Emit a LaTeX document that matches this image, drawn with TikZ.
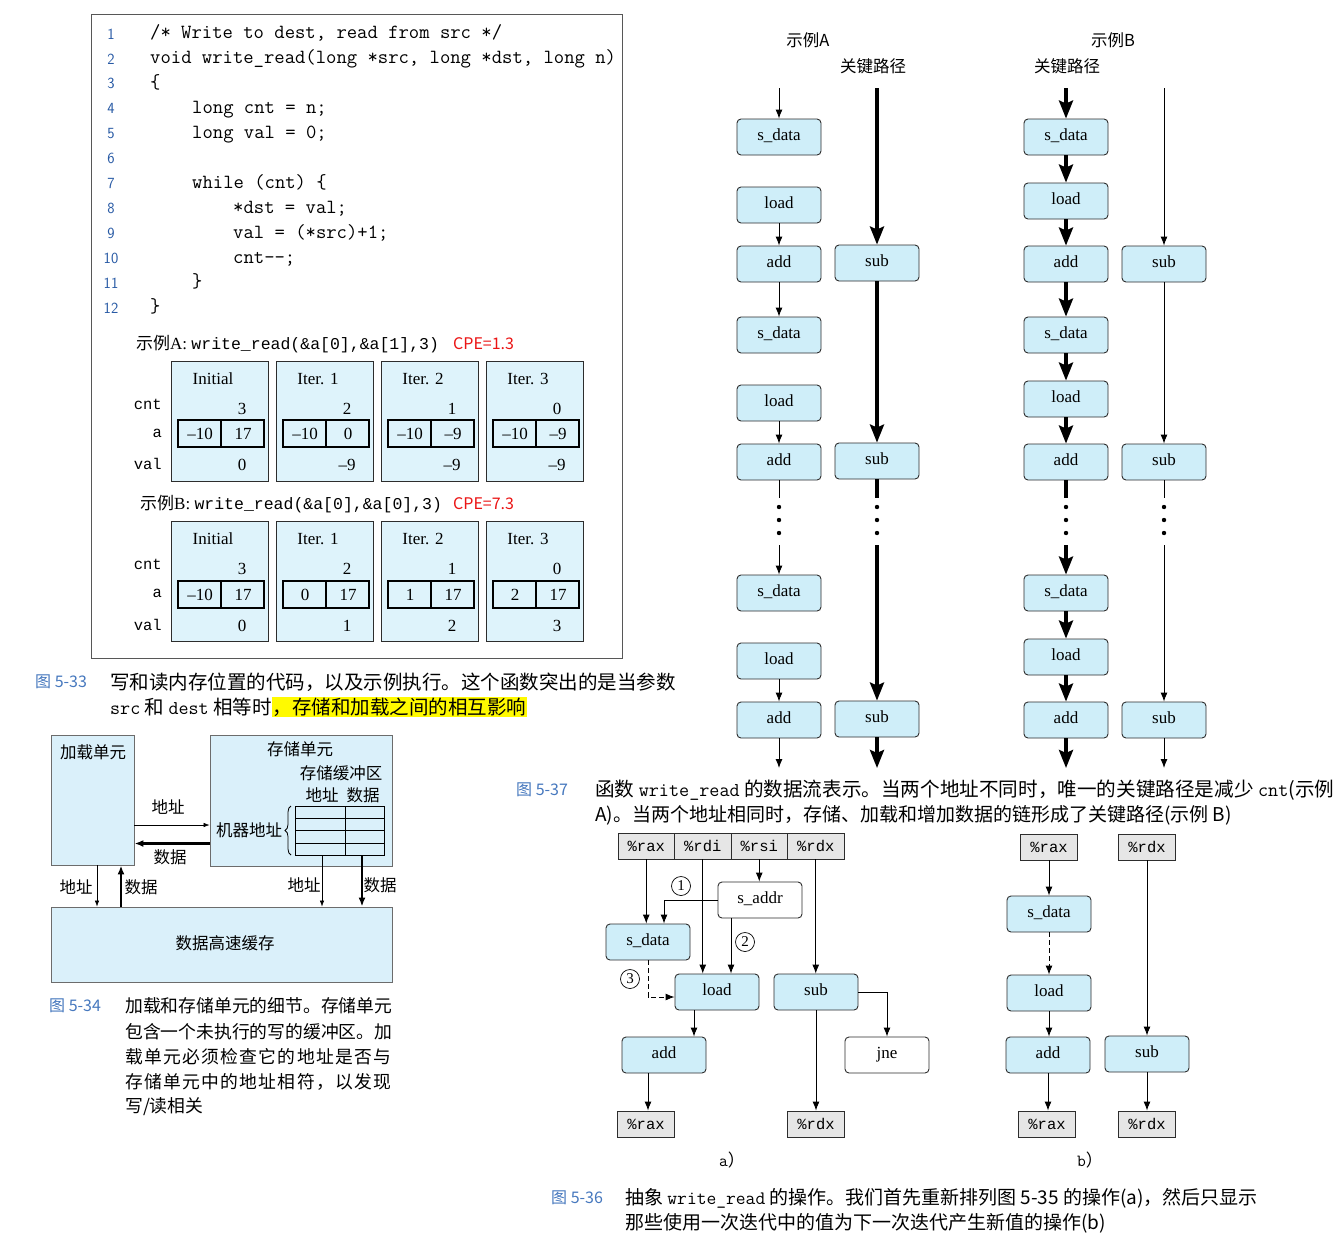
\documentclass[tikz,border=0pt]{standalone}
\usepackage{fontspec}
\setmainfont{Liberation Serif}
\newfontfamily\cjk{Noto Sans CJK SC}
\newfontfamily\cjkwide[LetterSpace=7.3]{Noto Sans CJK SC}
\newfontfamily\cour{Liberation Mono}
\usepackage{xcolor}
\usetikzlibrary{calc, arrows.meta, decorations.pathreplacing}

\definecolor{opblue}{RGB}{207,238,249}
\definecolor{cellblue}{RGB}{222,243,251}
\definecolor{unitblue}{RGB}{218,240,250}
\definecolor{reggray}{RGB}{230,230,230}
\definecolor{edgegray}{RGB}{45,45,45}
\definecolor{capblue}{RGB}{70,120,190}
\definecolor{lineblue}{RGB}{40,90,165}
\definecolor{cpered}{RGB}{235,20,20}
\definecolor{hlyellow}{RGB}{255,250,0}
\setlength{\fboxsep}{1pt}

\tikzset{
	every node/.style={inner sep=0pt},
	codeline/.style={anchor=west, font=\ttfamily\fontsize{20.1}{24}\selectfont, text height=13pt, text depth=4pt},
	lineno/.style={font=\sffamily\fontsize{15.5}{17}\selectfont, text=lineblue},
	cell/.style={draw=edgegray, line width=0.8pt, fill=cellblue},
	arrbox/.style={line width=1.6pt},
	valtxt/.style={font=\fontsize{17}{19}\selectfont},
	rowlbl/.style={anchor=east, font=\cour\fontsize{15.5}{18}\selectfont},
	exhead/.style={anchor=west, font=\fontsize{17}{20}\selectfont},
	cpe/.style={anchor=west, text=cpered, font=\cjk\fontsize{16}{20}\selectfont},
	captxt/.style={anchor=west, font=\cjk\fontsize{19}{22}\selectfont},
	capno/.style={anchor=west, text=capblue, font=\cjk\fontsize{16}{20}\selectfont},
	unitbox/.style={draw=edgegray!70, line width=0.9pt, fill=unitblue},
	lbl/.style={font=\cjk\fontsize{16.5}{20}\selectfont},
	addrbus/.style={-{Latex[length=6pt,width=4.5pt]}, line width=0.6pt},
	databus/.style={-{Latex[length=9pt,width=7pt]}, line width=2.4pt},
	op/.style={draw=edgegray, line width=0.9pt, fill=opblue, rounded corners=4pt, minimum width=84pt, minimum height=36pt, font=\fontsize{17}{18}\selectfont, text height=11pt, text depth=3.5pt},
	opw/.style={op, fill=white},
	reg/.style={draw=edgegray, line width=0.9pt, fill=reggray, minimum width=56.5pt, minimum height=26pt, font=\cour\fontsize{15.5}{18}\selectfont},
	flow/.style={-{Latex[length=9pt,width=7pt]}, line width=0.9pt},
	crit/.style={-{Stealth[length=18pt,width=14pt,inset=3pt]}, line width=3.6pt},
	critline/.style={line width=3.6pt},
	link/.style={dash pattern=on 5pt off 3pt},
	circnum/.style={circle, draw, line width=0.7pt, minimum size=19pt, font=\fontsize{15}{16}\selectfont},
}

\begin{document}
\begin{tikzpicture}[x=1pt, y=-1pt]
	\useasboundingbox (0,0) rectangle (1344,1237);
	\fill[white] (0,0) rectangle (1344,1237);

	%----- figure 5-33: code
	\draw[edgegray!80, line width=1pt] (91,14) rectangle (622,658);
	\foreach \n in {1,...,12}
		\node[lineno] (ln\n) at (111,{34+24.9*(\n-1)}) {\n};
	\node[codeline] (c1) at (150,34) {/* Write to dest, read from src */};
	\node[codeline] (c2) at (150,59) {void write\_read(long *src, long *dst, long n)};
	\node[codeline] (c3) at (150,84) {\{};
	\node[codeline] (c4) at (192,109) {long cnt = n;};
	\node[codeline] (c5) at (192,134) {long val = 0;};
	\node[codeline] (c7) at (192,184) {while (cnt) \{};
	\node[codeline] (c8) at (233,209) {*dst = val;};
	\node[codeline] (c9) at (233,234) {val = (*src)+1;};
	\node[codeline] (c10) at (233,259) {cnt-{}-;};
	\node[codeline] (c11) at (192,283) {\}};
	\node[codeline] (c12) at (150,308) {\}};

	%example A
	\node[exhead] (hA) at (136,344) {{\cjk 示例}A: {\cour\fontsize{16.5}{18}\selectfont write\_read(\&a[0],\&a[1],3)}};
	\node[cpe] (cpeA) at (453,344) {CPE=1.3};
	\node[rowlbl] (cntA) at (162,404) {cnt};
	\node[rowlbl] (aA) at (162,433) {a};
	\node[rowlbl] (valA) at (162,464) {val};
	\foreach \i/\ttl/\cn/\pa/\qa/\vl in {0/Initial/3/–10/17/0, 1/Iter. 1/2/–10/0/–9, 2/Iter. 2/1/–10/–9/–9, 3/Iter. 3/0/–10/–9/–9}{
		\pgfmathsetmacro{\lx}{171+105*\i}
		\draw[cell] (\lx,361) rectangle ++(97,120);
		\node[valtxt] (tA\i) at (\lx+42,379) {\ttl};
		\node[valtxt] (nA\i) at (\lx+71,409) {\cn};
		\draw[arrbox] (\lx+7,420) rectangle (\lx+93,447);
		\draw[arrbox] (\lx+50,420) -- (\lx+50,447);
		\node[valtxt] (pA\i) at (\lx+29,434) {\pa};
		\node[valtxt] (qA\i) at (\lx+72,434) {\qa};
		\node[valtxt] (vA\i) at (\lx+71,465) {\vl};
	}

	%example B
	\node[exhead] (hB) at (140,504) {{\cjk 示例}B: {\cour\fontsize{16.5}{18}\selectfont write\_read(\&a[0],\&a[0],3)}};
	\node[cpe] (cpeB) at (453,504) {CPE=7.3};
	\node[rowlbl] (cntB) at (162,564) {cnt};
	\node[rowlbl] (aB) at (162,593) {a};
	\node[rowlbl] (valB) at (162,625) {val};
	\foreach \i/\ttl/\cn/\pa/\qa/\vl in {0/Initial/3/–10/17/0, 1/Iter. 1/2/0/17/1, 2/Iter. 2/1/1/17/2, 3/Iter. 3/0/2/17/3}{
		\pgfmathsetmacro{\lx}{171+105*\i}
		\draw[cell] (\lx,521) rectangle ++(97,120);
		\node[valtxt] (tB\i) at (\lx+42,539) {\ttl};
		\node[valtxt] (nB\i) at (\lx+71,569) {\cn};
		\draw[arrbox] (\lx+7,581) rectangle (\lx+93,608);
		\draw[arrbox] (\lx+50,581) -- (\lx+50,608);
		\node[valtxt] (pB\i) at (\lx+29,595) {\pa};
		\node[valtxt] (qB\i) at (\lx+72,595) {\qa};
		\node[valtxt] (vB\i) at (\lx+71,626) {\vl};
	}

	%caption 5-33
	\node[capno] (no33) at (35,682) {图 5-33};
	\node[captxt, font=\cjk\fontsize{19.5}{22}\selectfont] (cap33a) at (110,682) {写和读内存位置的代码，以及示例执行。这个函数突出的是当参数};
	\node[captxt, font=\cjk\fontsize{19.5}{22}\selectfont] (cap33b) at (110,707) {{\ttfamily src} 和 {\ttfamily dest} 相等时\colorbox{hlyellow}{，存储和加载之间的相互影响}};

	%----- figure 5-34: load and store units
	\node[unitbox, minimum width=83pt, minimum height=130pt] (loadunit) at (92.5,800) {};
	\node[unitbox, minimum width=182pt, minimum height=131pt] (storeunit) at (301,800.5) {};
	\node[unitbox, minimum width=341pt, minimum height=75pt] (dcache) at (221.5,944.5) {};
	\node[lbl] (ldname) at (93,752) {加载单元};
	\node[lbl] (stname) at (300,749) {存储单元};
	\node[lbl] (bufname) at (341,773) {存储缓冲区};
	\node[lbl] (bufaddr) at (322,795) {地址};
	\node[lbl] (bufdata) at (363,795) {数据};
	\node[lbl] (dcname) at (225,943) {数据高速缓存};

	%store buffer
	\node[draw, line width=0.8pt, minimum width=89pt, minimum height=49pt] (buffer) at (339.5,830.5) {};
	\foreach \yy in {818,830,843}
		\draw[line width=0.8pt] (295,\yy) -- (384,\yy);
	\draw[line width=0.8pt] (345,806) -- (345,855);
	\draw[decorate, decoration={brace, amplitude=6pt}, line width=0.8pt] (291,855) -- (291,806);
	\node[lbl] (machaddr) at (249,830) {机器地址};

	%buses
	\draw[addrbus] ([yshift=-25pt]loadunit.east) -- ([yshift=-25pt]loadunit.east -| storeunit.west);
	\draw[databus] ([yshift=-43pt]storeunit.west) -- ([yshift=-43pt]storeunit.west -| loadunit.east);
	\draw[addrbus] ([xshift=4.5pt]loadunit.south) -- ([xshift=4.5pt]loadunit.south |- dcache.north);
	\draw[databus] ([xshift=28.5pt]loadunit.south |- dcache.north) -- ([xshift=28.5pt]loadunit.south);
	\draw[addrbus] ([xshift=-17.5pt]buffer.south) -- ([xshift=-17.5pt]buffer.south |- dcache.north);
	\draw[databus] ([xshift=22.5pt]buffer.south) -- ([xshift=22.5pt]buffer.south |- dcache.north);
	\node[lbl] (la1) at (168,807) {地址};
	\node[lbl] (ld1) at (170,857) {数据};
	\node[lbl] (la2) at (76,887) {地址};
	\node[lbl] (ld2) at (141,887) {数据};
	\node[lbl] (la3) at (304,885) {地址};
	\node[lbl] (ld3) at (380,885) {数据};

	%caption 5-34
	\node[capno] (no34) at (49,1006) {图 5-34};
	\node[captxt, font=\cjk\fontsize{17.8}{20}\selectfont] (cap34a) at (125,1006) {加载和存储单元的细节。存储单元};
	\node[captxt, font=\cjk\fontsize{17.8}{20}\selectfont] (cap34b) at (125,1032) {包含一个未执行的写的缓冲区。加};
	\node[captxt, font=\cjkwide\fontsize{17.8}{20}\selectfont] (cap34c) at (125,1057) {载单元必须检查它的地址是否与};
	\node[captxt, font=\cjkwide\fontsize{17.8}{20}\selectfont] (cap34d) at (125,1082) {存储单元中的地址相符，以发现};
	\node[captxt, font=\cjk\fontsize{17.8}{20}\selectfont] (cap34e) at (125,1107) {写/读相关};

	%----- figure 5-37: data flow
	\def\xa{779}
	\def\xs{877}
	\def\xb{1066}
	\def\xt{1164}
	\node[lbl] (exA) at (808,40) {示例A};
	\node[lbl] (pathA) at (873,66) {关键路径};
	\node[lbl] (exB) at (1113,40) {示例B};
	\node[lbl] (pathB) at (1067,66) {关键路径};

	\foreach \k/\y in {1/0, 2/198, 3/456}{
		\node[op] (sdA\k) at (\xa,137+\y) {s\_data};
		\node[op] (ldA\k) at (\xa,205+\y) {load};
		\node[op] (adA\k) at (\xa,264+\y) {add};
		\node[op] (sbA\k) at (\xs,263+\y) {sub};
		\node[op] (sdB\k) at (\xb,137+\y) {s\_data};
		\node[op] (ldB\k) at (\xb,201+\y) {load};
		\node[op] (adB\k) at (\xb,264+\y) {add};
		\node[op] (sbB\k) at (\xt,264+\y) {sub};
	}

	%free ends
	\foreach \col/\xx in {a/\xa, s/\xs, b/\xb, t/\xt}{
		\coordinate (in\col) at (\xx,88);
		\coordinate (out\col) at (\xx,768);
		\coordinate (gapu\col) at (\xx,498);
		\coordinate (gapd\col) at (\xx,545);
		\foreach \yy in {507,520,533}
			\fill (\xx,\yy) circle (2.2pt);
	}

	%example A
	\draw[flow] (ina) -- (sdA1);
	\foreach \k in {1,2,3}
		\draw[flow] (ldA\k) -- (adA\k);
	\draw[flow] (adA1) -- (sdA2);
	\draw[line width=0.9pt] (adA2) -- (gapua);
	\draw[flow] (gapda) -- (sdA3);
	\draw[flow] (adA3) -- (outa);
	\draw[crit] (ins) -- (sbA1);
	\draw[crit] (sbA1) -- (sbA2);
	\draw[critline] (sbA2) -- (gapus);
	\draw[crit] (gapds) -- (sbA3);
	\draw[crit] (sbA3) -- (outs);

	%example B
	\draw[crit] (inb) -- (sdB1);
	\foreach \k in {1,2,3}{
		\draw[crit] (sdB\k) -- (ldB\k);
		\draw[crit] (ldB\k) -- (adB\k);
	}
	\draw[crit] (adB1) -- (sdB2);
	\draw[critline] (adB2) -- (gapub);
	\draw[crit] (gapdb) -- (sdB3);
	\draw[crit] (adB3) -- (outb);
	\draw[flow] (int) -- (sbB1);
	\draw[flow] (sbB1) -- (sbB2);
	\draw[line width=0.9pt] (sbB2) -- (gaput);
	\draw[flow] (gapdt) -- (sbB3);
	\draw[flow] (sbB3) -- (outt);

	%caption 5-37
	\node[capno] (no37) at (516,790) {图 5-37};
	\node[captxt, font=\cjk\fontsize{19.6}{22}\selectfont] (cap37a) at (595,790) {函数 {\ttfamily write\_read} 的数据流表示。当两个地址不同时，唯一的关键路径是减少 {\ttfamily cnt}(示例};
	\node[captxt] (cap37b) at (595,815) {A)。当两个地址相同时，存储、加载和增加数据的链形成了关键路径(示例 B)};

	%----- figure 5-36 a)
	\node[reg] (rax) at (646.25,846) {\%rax};
	\node[reg] (rdi) at (702.75,846) {\%rdi};
	\node[reg] (rsi) at (759.25,846) {\%rsi};
	\node[reg] (rdx) at (815.75,846) {\%rdx};
	\node[opw] (saddr) at (760,900) {s\_addr};
	\node[op] (sdata) at (648,942) {s\_data};
	\node[op] (load) at (717,992) {load};
	\node[op] (sub) at (816,992) {sub};
	\node[op] (add) at (664,1055) {add};
	\node[opw] (jne) at (887,1055) {jne};
	\node[reg] (raxo) at (646,1124) {\%rax};
	\node[reg] (rdxo) at (816,1124) {\%rdx};

	\draw[flow] (rax) -- (rax |- sdata.north);
	\draw[flow] (rdi) -- (rdi |- load.north);
	\draw[flow] (rsi) -- (rsi |- saddr.north);
	\draw[flow] (rdx) -- (rdx |- sub.north);
	\draw[flow] (saddr.west) -| ([xshift=16pt]sdata.north);
	\draw[flow] ([xshift=-29pt]saddr.south) -- ([xshift=-29pt]saddr.south |- load.north);
	\draw[flow, link] (sdata.south) |- ([yshift=-5pt]load.west);
	\draw[flow] ([xshift=-23pt]load.south) -- ([xshift=-23pt]load.south |- add.north);
	\draw[flow] ([xshift=-16pt]add.south) -- ([xshift=-16pt]add.south |- raxo.north);
	\draw[flow] (sub.south) -- (sub.south |- rdxo.north);
	\draw[flow] (sub.east) -| (jne.north);
	\node[circnum] (one) at (681,886) {1};
	\node[circnum] (two) at (745,942) {2};
	\node[circnum] (three) at (630,979) {3};
	\node[valtxt] (lbla) at (732,1160) {{\ttfamily a}{\cjk ）}};

	%----- figure 5-36 b)
	\node[reg] (raxb) at (1049,847) {\%rax};
	\node[reg] (rdxb) at (1147,847) {\%rdx};
	\node[op] (sdatab) at (1049,914) {s\_data};
	\node[op] (loadb) at (1049,993) {load};
	\node[op] (addb) at (1048,1055) {add};
	\node[op] (subb) at (1147,1054) {sub};
	\node[reg] (raxbo) at (1047,1124) {\%rax};
	\node[reg] (rdxbo) at (1147,1124) {\%rdx};

	\draw[flow] (raxb) -- (raxb |- sdatab.north);
	\draw[flow, link] (sdatab) -- (sdatab |- loadb.north);
	\draw[flow] (loadb) -- (loadb |- addb.north);
	\draw[flow] (addb) -- (addb |- raxbo.north);
	\draw[flow] (rdxb) -- (rdxb |- subb.north);
	\draw[flow] (subb) -- (subb |- rdxbo.north);
	\node[valtxt] (lblb) at (1090,1160) {{\ttfamily b}{\cjk ）}};

	%caption 5-36
	\node[capno] (no36) at (551,1198) {图 5-36};
	\node[captxt] (cap36a) at (625,1198) {抽象 {\ttfamily write\_read} 的操作。我们首先重新排列图 5-35 的操作(a)，然后只显示};
	\node[captxt] (cap36b) at (625,1223) {那些使用一次迭代中的值为下一次迭代产生新值的操作(b)};
\end{tikzpicture}
\end{document}
